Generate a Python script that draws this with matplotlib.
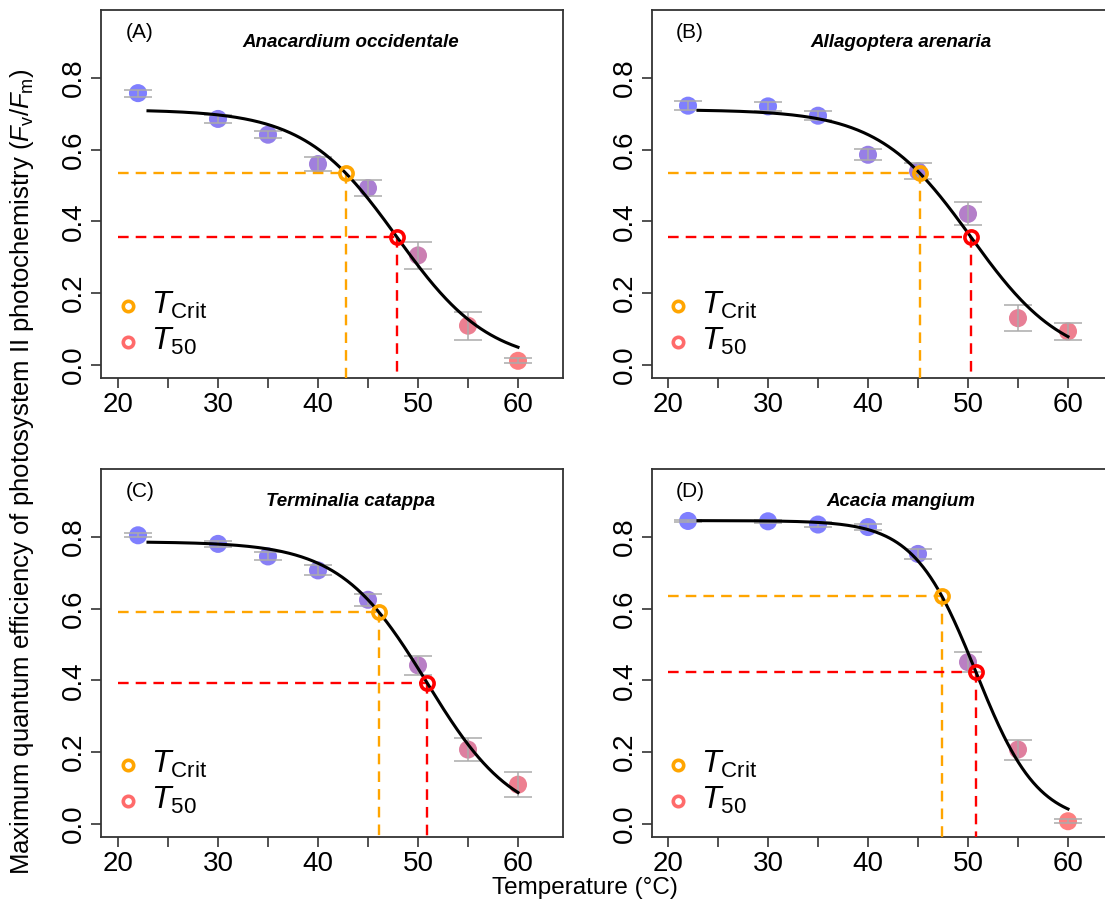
import numpy as np
import matplotlib
matplotlib.use("Agg")
import matplotlib.pyplot as plt

plt.rcParams["font.family"] = ["Liberation Sans", "DejaVu Sans"]
plt.rcParams["mathtext.fontset"] = "custom"
plt.rcParams["mathtext.rm"] = "Liberation Sans"
plt.rcParams["mathtext.it"] = "Liberation Sans:italic"

# --- Data ---
temps = [22, 30, 35, 40, 45, 50, 55, 60]

species = ["Anacardium occidentale", "Allagoptera arenaria",
           "Terminalia catappa", "Acacia mangium"]
panel_tags = ["(A)", "(B)", "(C)", "(D)"]

fvfm_a = [0.758, 0.686, 0.642, 0.560, 0.493, 0.305, 0.109, 0.011]
err_a = [0.010, 0.010, 0.010, 0.020, 0.022, 0.038, 0.039, 0.007]
fvfm_b = [0.723, 0.721, 0.695, 0.586, 0.540, 0.421, 0.130, 0.093]
err_b = [0.012, 0.012, 0.012, 0.016, 0.022, 0.032, 0.036, 0.023]
fvfm_c = [0.805, 0.781, 0.746, 0.707, 0.625, 0.442, 0.207, 0.109]
err_c = [0.006, 0.009, 0.011, 0.014, 0.017, 0.027, 0.031, 0.035]
fvfm_d = [0.845, 0.844, 0.835, 0.828, 0.753, 0.451, 0.207, 0.007]
err_d = [0.004, 0.004, 0.008, 0.008, 0.015, 0.027, 0.028, 0.006]

# fitted logistic: plateau, T_crit, T_50
fit_top = [0.712, 0.712, 0.787, 0.846]
t_crit = [42.8, 45.2, 46.1, 47.4]
t_50 = [47.9, 50.3, 50.9, 50.8]

fvfm_all = [fvfm_a, fvfm_b, fvfm_c, fvfm_d]
err_all = [err_a, err_b, err_c, err_d]

# --- Layout (pixels) ---
W, H = 1105, 917
boxes = [(101, 10, 563, 378), (652, 10, 1118, 378),
         (101, 469, 563, 837), (652, 469, 1118, 837)]
x_left = [18.3, 18.4, 18.3, 18.4]   # axis start, 10 degC per 100 px

ORANGE = "#FFA500"
RED = "#FF0000"


def logistic(x, top, tc, t50):
    k = np.log(3) / (t50 - tc)
    return top / (1 + np.exp(k * (np.asarray(x) - t50)))


def point_colors(vals):
    vals = np.asarray(vals)
    t = vals / vals.max()
    cols = []
    for f in t:
        cols.append((1 - f, 0.0, f, 0.5))
    return cols


fig = plt.figure(figsize=(W / 100, H / 100), dpi=100)

for i, (l, t, r, b) in enumerate(boxes):
    ax = fig.add_axes([l / W, 1 - b / H, (r - l) / W, (b - t) / H])
    y = fvfm_all[i]
    e = err_all[i]

    ax.scatter(temps, y, s=13 ** 2, c=point_colors(y), edgecolors="none", zorder=2)
    ax.errorbar(temps, y, yerr=e, fmt="none", ecolor="#ababab", elinewidth=1.1,
                capsize=10, capthick=1.1, zorder=3)

    xs = np.linspace(23, 60, 300)
    ax.plot(xs, logistic(xs, fit_top[i], t_crit[i], t_50[i]), color="black",
            lw=2.2, zorder=4)

    ymin = -0.037
    for tx, col in [(t_crit[i], ORANGE), (t_50[i], RED)]:
        ty = logistic(tx, fit_top[i], t_crit[i], t_50[i])
        ax.plot([20, tx], [ty, ty], color=col, lw=1.7, dashes=(4.5, 3), zorder=3)
        ax.plot([tx, tx], [ty, ymin], color=col, lw=1.7, dashes=(4.5, 3), zorder=3)
        ax.plot(tx, ty, "o", ms=9.5, mfc="none", mec=col, mew=2.6, zorder=5)

    # legend
    ax.plot(21.0, 0.165, "o", ms=7.5, mfc="none", mec=ORANGE, mew=2.6)
    ax.plot(21.0, 0.064, "o", ms=7.5, mfc="none", mec="#FF6A6A", mew=2.6)
    ax.text(23.3, 0.165, r"$\mathit{T}_{\mathrm{Crit}}$", fontsize=23, va="center")
    ax.text(23.3, 0.064, r"$\mathit{T}_{\mathrm{50}}$", fontsize=23, va="center")

    ax.text(22.2, 0.926, panel_tags[i], fontsize=15, ha="center", va="center")
    ax.text(43.3, 0.90, species[i], fontsize=13.5, ha="center", va="center",
            style="italic", weight="bold")

    ax.set_xlim(x_left[i], x_left[i] + (r - l) / 10)
    ax.set_ylim(ymin, 0.99)
    ax.set_xticks([20, 25, 30, 35, 40, 45, 50, 55, 60])
    ax.set_xticklabels(["20", "", "30", "", "40", "", "50", "", "60"])
    ax.set_yticks([0.0, 0.2, 0.4, 0.6, 0.8])
    ax.set_yticklabels(["0.0", "0.2", "0.4", "0.6", "0.8"], rotation=90, va="center")
    ax.tick_params(direction="out", length=7, width=1.2, labelsize=20, pad=3,
                   color="#333333")
    for sp in ax.spines.values():
        sp.set_linewidth(1.3)
        sp.set_color("#333333")

fig.text(22 / W, 1 - 472 / H,
         r"Maximum quantum efficiency of photosystem II photochemistry ($F_{\mathrm{v}}/F_{\mathrm{m}}$)",
         rotation=90, ha="center", va="center", fontsize=18.5)
fig.text(585 / W, 1 - 888 / H, "Temperature (°C)", ha="center", va="center",
         fontsize=17.5)

fig.savefig("out.png", dpi=100)
